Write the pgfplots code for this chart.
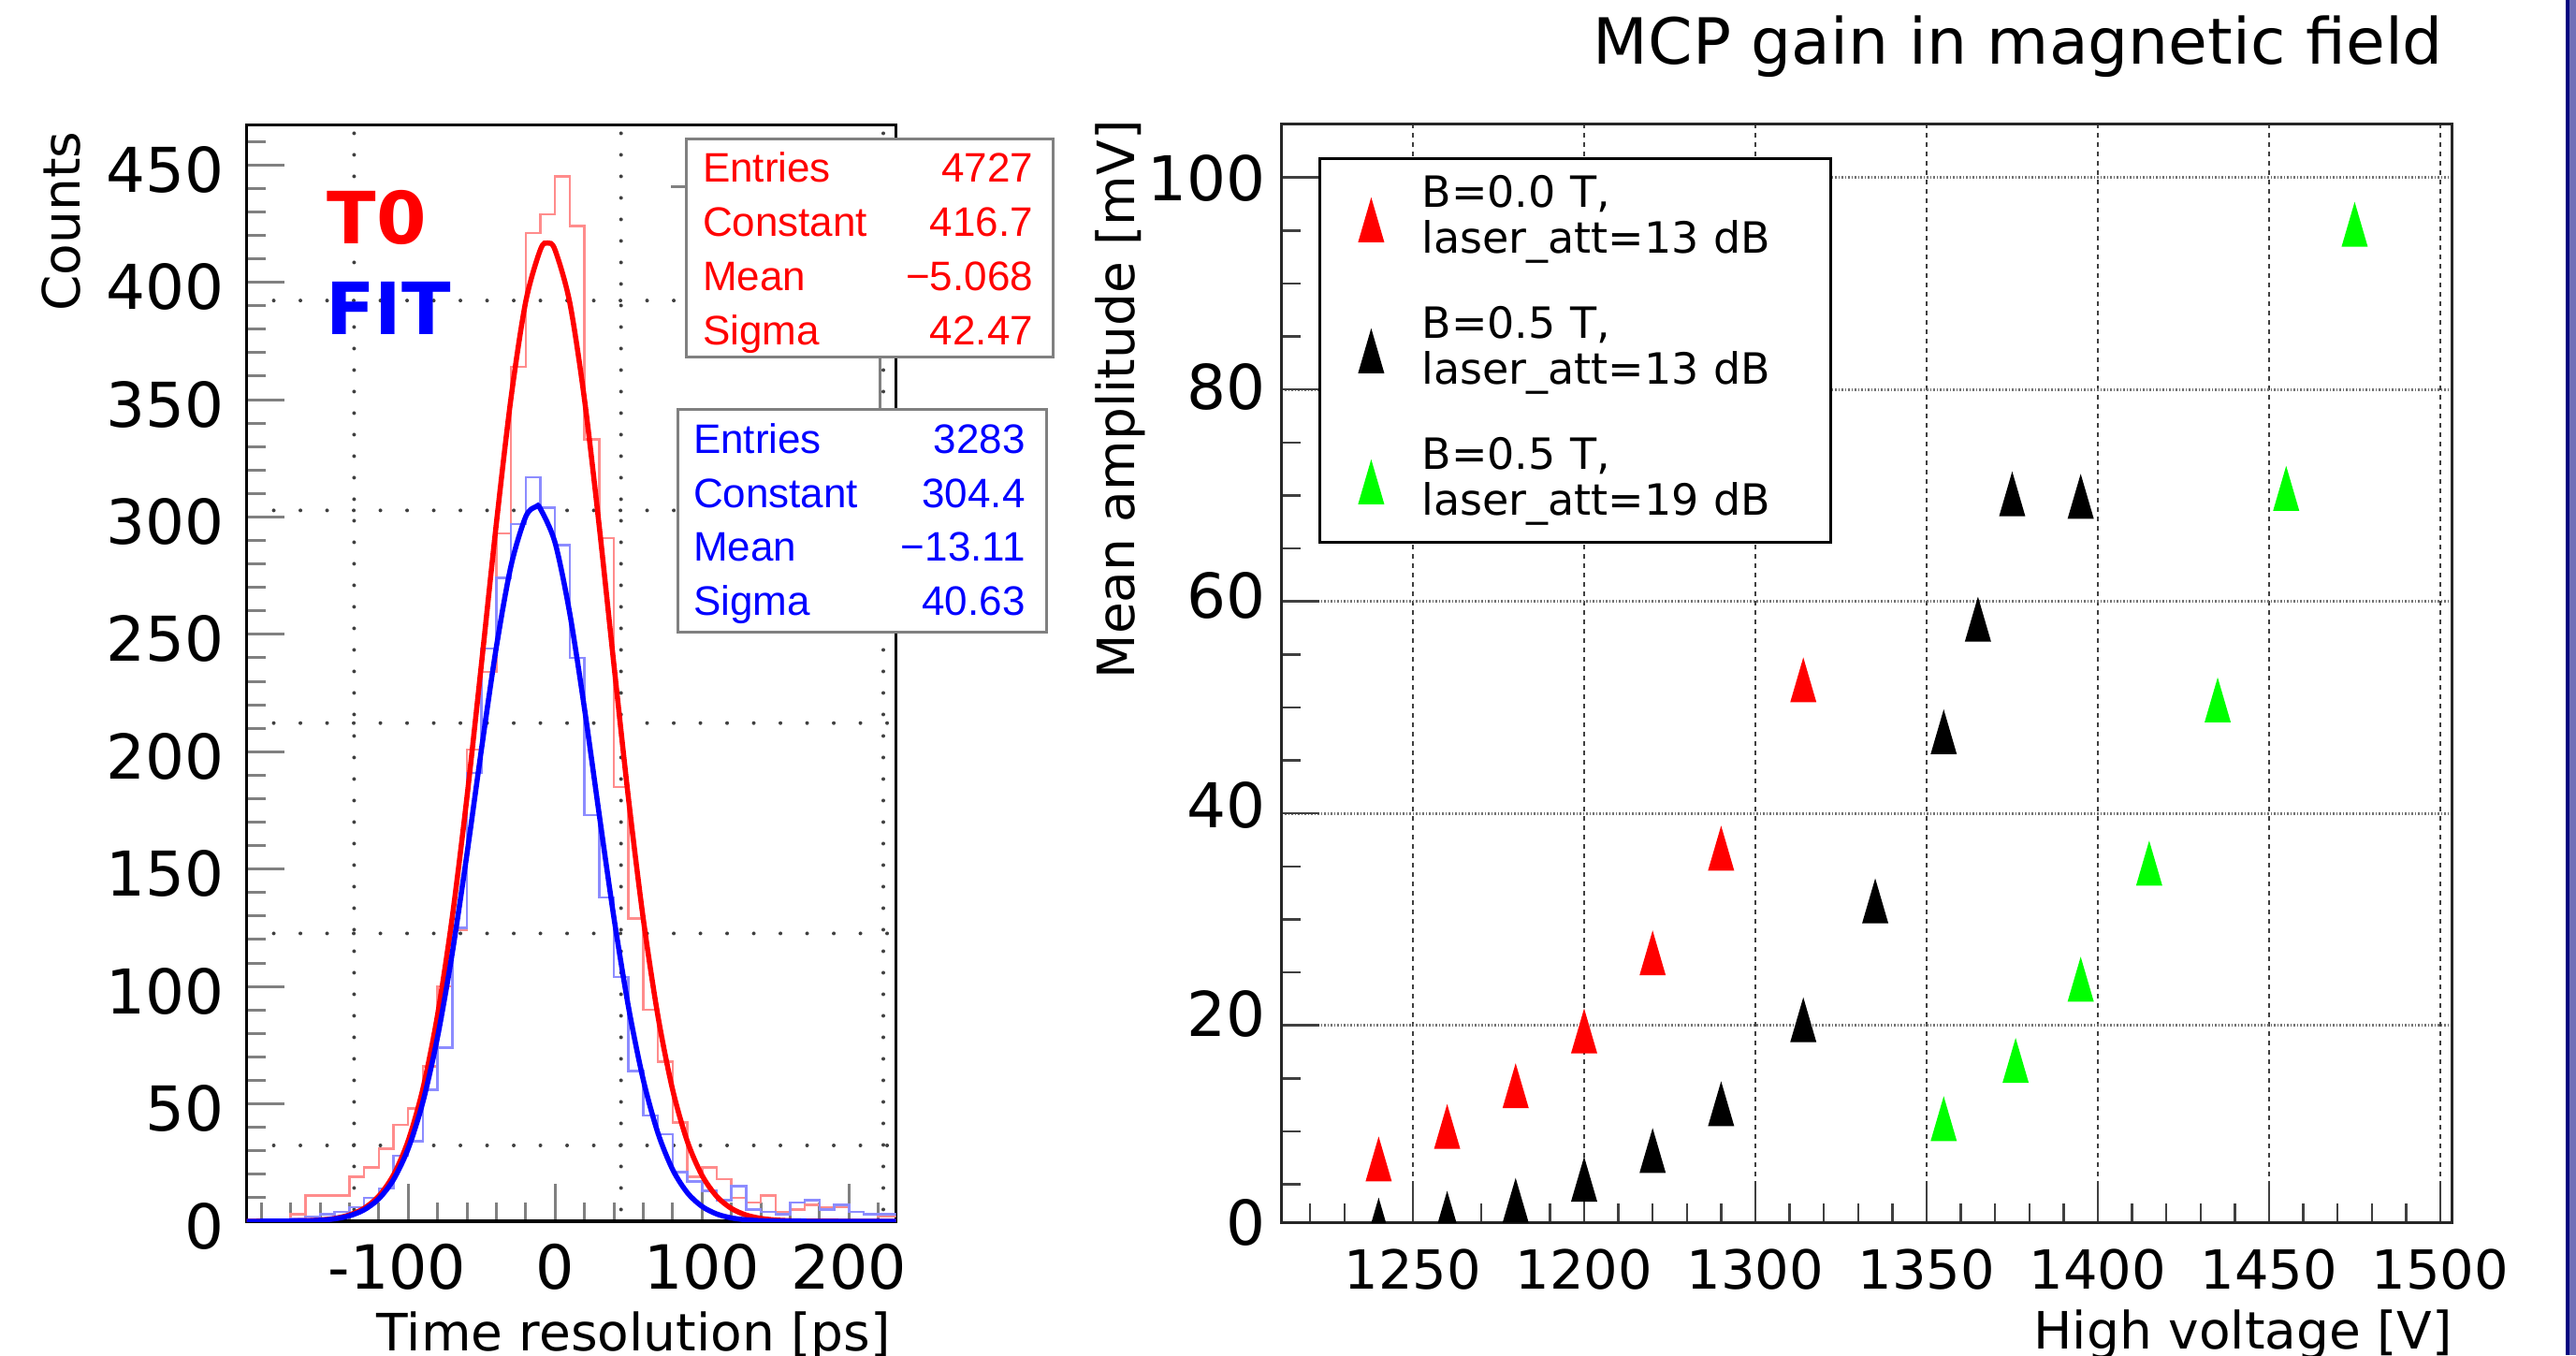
\documentclass[border=0pt]{standalone}
\usepackage{pgfplots}
\pgfplotsset{compat=1.18}
\usepackage{fontspec}
\setmainfont{DejaVu Sans}
\newfontfamily\arialf{Liberation Sans}
\definecolor{navybar}{HTML}{000080}
\definecolor{lightbar}{HTML}{7070B8}
\pgfdeclareplotmark{tallt}{%
  \pgfpathmoveto{\pgfqpoint{0pt}{4.8pt}}%
  \pgfpathlineto{\pgfqpoint{-2.8pt}{-4.8pt}}%
  \pgfpathlineto{\pgfqpoint{2.8pt}{-4.8pt}}%
  \pgfpathclose\pgfusepathqfill}
\pgfplotstableread{
x y
-210 0
-200 0
-190 0
-180 3
-170 11
-160 11
-150 11
-140 19
-130 23
-120 31
-110 41
-100 48
-90 66
-80 100
-70 124
-60 201
-50 234
-40 293
-30 364
-20 421
-10 429
0 445
10 424
20 333
30 291
40 185
50 129
60 90
70 68
80 42
90 19
100 23
110 18
120 10
130 8
140 11
150 4
160 5
170 7
180 6
190 6
200 4
210 3
220 2
232 2
}\redhist
\pgfplotstableread{
x y
-210 0
-200 0
-190 0
-180 1
-170 2
-160 3
-150 4
-140 6
-130 10
-120 14
-110 28
-100 34
-90 56
-80 74
-70 125
-60 191
-50 244
-40 274
-30 297
-20 317
-10 304
0 288
10 240
20 173
30 138
40 104
50 64
60 45
70 37
80 21
90 17
100 13
110 9
120 15
130 5
140 4
150 3
160 8
170 9
180 5
190 7
200 4
210 3
220 3
232 3
}\bluehist
\tikzset{lgrid/.style={black!75, line width=0.8pt, line cap=round, dash pattern=on 0pt off 5.7pt},
         lgridv/.style={black!75, line width=0.8pt, line cap=round, dash pattern=on 0pt off 4.6pt}}
\begin{document}
\begin{tikzpicture}[x=1pt,y=1pt]
\useasboundingbox (0,0) rectangle (550.6,289.6);
\clip (0,0) rectangle (550.6,289.6);
% ---------------- left panel ----------------
\begin{axis}[
  at={(52.7pt,28.6pt)}, anchor=south west, scale only axis,
  width=138.8pt, height=234.3pt,
  xmin=-210, xmax=232, ymin=0, ymax=467,
  axis line style={black, line width=0.7pt},
  tick pos=left, tick align=inside,
  xtick={-100,0,100,200}, xticklabels={\llap{-}100,0,100,200},
  minor xtick={-200,-180,...,220},
  ytick={0,50,...,450}, minor ytick={0,10,...,460},
  major tick length=8pt, minor tick length=4pt,
  tick style={color=gray, line width=0.6pt},
  /pgf/number format/assume math mode=true,
  yticklabel style={font=\fontsize{13.2}{14}\selectfont, inner sep=0pt, xshift=-4.6pt, yshift=-1pt},
  xticklabel style={font=\fontsize{13}{14}\selectfont, inner sep=0pt, yshift=-4.7pt},
  ylabel={Counts},
  ylabel style={at={(axis description cs:-0.2572,0.9949)}, anchor=base east, inner sep=0pt, font=\fontsize{11}{13}\selectfont},
  xlabel={Time resolution [ps]},
  xlabel style={at={(axis description cs:0.99352,-0.11780)}, anchor=base east, inner sep=0pt, font=\fontsize{11}{13}\selectfont},
]
\draw[lgrid] (axis cs:-191.5,32.3) -- (axis cs:230,32.3);
\draw[lgrid] (axis cs:-191.5,122.6) -- (axis cs:230,122.6);
\draw[lgrid] (axis cs:-191.5,212.2) -- (axis cs:230,212.2);
\draw[lgrid] (axis cs:-191.5,302.8) -- (axis cs:230,302.8);
\draw[lgrid] (axis cs:-191.5,392.2) -- (axis cs:230,392.2);
\draw[lgridv] (axis cs:-136.8,5) -- (axis cs:-136.8,465);
\draw[lgridv] (axis cs:44.9,5) -- (axis cs:44.9,465);
\draw[lgridv] (axis cs:223.4,5) -- (axis cs:223.4,465);
\addplot[const plot, red!45, line width=0.5pt] table[x=x,y=y] {\redhist};
\addplot[const plot, blue!45, line width=0.5pt] table[x=x,y=y] {\bluehist};
\addplot[smooth, red, line width=1.1pt] coordinates {
(-210,0) (-200,0.011) (-190,0.03) (-180,0.086) (-170,0.22) (-160,0.54) (-150,1.23) (-140,2.68) (-130,5.50) (-120,10.70) (-110,19.69) (-100,34.27) (-90,56.40) (-80,87.87) (-70,129.5) (-60,180.6) (-50,238.1) (-40,297.1) (-30,350.7) (-20,391.7) (-10,413.9) (-5,416.7) (0,413.7) (10,391.3) (20,350.1) (30,296.3) (40,237.3) (50,179.8) (60,128.9) (70,87.4) (80,56.05) (90,34.02) (100,19.53) (110,10.61) (120,5.45) (130,2.65) (140,1.22) (150,0.53) (160,0.22) (170,0.08) (180,0.03) (200,0) (232,0)};
\addplot[smooth, blue, line width=1.1pt] coordinates {
(-210,0) (-200,0.008) (-180,0.066) (-170,0.18) (-160,0.44) (-150,1.04) (-140,2.32) (-130,4.86) (-120,9.57) (-110,17.73) (-100,30.94) (-90,50.78) (-80,78.51) (-70,114.2) (-60,156.4) (-50,201.6) (-40,244.5) (-30,279.2) (-20,300.1) (-13,304.4) (-10,303.5) (0,289.0) (10,258.9) (20,218.4) (30,173.4) (40,129.5) (50,91.11) (60,60.30) (70,37.57) (80,22.03) (90,12.16) (100,6.32) (110,3.09) (120,1.42) (130,0.62) (140,0.25) (150,0.10) (160,0.03) (180,0) (232,0)};
\end{axis}
% labels T0 / FIT
\node[anchor=base west, inner sep=0pt, text=red, font=\bfseries\fontsize{15.4}{16}\selectfont] at (69.7,237.46) {T0};
\node[anchor=base west, inner sep=0pt, text=blue, font=\bfseries\fontsize{15.4}{16}\selectfont] at (69.4,218.1) {FIT};
% stats boxes
\draw[gray, line width=0.6pt] (188.14,213.2) -- (188.14,202.1);
\draw[gray, line width=0.6pt] (143.4,249.7) -- (146.68,249.7);
\filldraw[fill=white, draw=gray, line width=0.6pt] (146.68,213.2) rectangle (225.14,259.84);
\filldraw[fill=white, draw=gray, line width=0.6pt] (144.8,154.6) rectangle (223.6,202.1);
\begin{scope}[every node/.style={inner sep=0pt, font=\arialf\fontsize{8.8}{10}\selectfont}]
\node[anchor=base west, text=red] at (150.0,250.7) {Entries};
\node[anchor=base west, text=red] at (150.0,239.1) {Constant};
\node[anchor=base west, text=red] at (150.0,227.5) {Mean};
\node[anchor=base west, text=red] at (150.0,215.9) {Sigma};
\node[anchor=base east, text=red] at (221.0,250.7) {4727};
\node[anchor=base east, text=red] at (221.0,239.1) {416.7};
\node[anchor=base east, text=red] at (221.0,227.5) {−5.068};
\node[anchor=base east, text=red] at (221.0,215.9) {42.47};
\node[anchor=base west, text=blue] at (148.0,192.8) {Entries};
\node[anchor=base west, text=blue] at (148.0,181.2) {Constant};
\node[anchor=base west, text=blue] at (148.0,169.7) {Mean};
\node[anchor=base west, text=blue] at (148.0,158.1) {Sigma};
\node[anchor=base east, text=blue] at (219.3,192.8) {3283};
\node[anchor=base east, text=blue] at (219.3,181.2) {304.4};
\node[anchor=base east, text=blue] at (219.3,169.7) {−13.11};
\node[anchor=base east, text=blue] at (219.3,158.1) {40.63};
\end{scope}
% ---------------- right panel ----------------
\begin{axis}[
  at={(273.96pt,28.22pt)}, anchor=south west, scale only axis,
  width=250.04pt, height=234.78pt,
  xmin=1161.7, xmax=1503.3, ymin=1.35, ymax=105,
  axis line style={black!85, line width=0.6pt},
  tick pos=left, tick align=inside,
  xtick={1200,1250,...,1500}, xticklabels={1250,1200,1300,1350,1400,1450,1500},
  minor xtick={1170,1180,...,1500},
  ytick={20,40,...,100}, yticklabels={},
  minor ytick={5,10,...,100},
  extra y ticks={1.42,21.12,40.81,60.57,80.27,99.89},
  extra y tick labels={0,20,40,60,80,100},
  extra y tick style={grid=none, major tick length=0pt,
     yticklabel style={font=\fontsize{13.2}{14}\selectfont, inner sep=0pt, xshift=-3.2pt}},
  major tick length=8pt, minor tick length=4.1pt,
  tick style={color=black!75, line width=0.5pt},
  xmajorgrids, ymajorgrids,
  x grid style={black!75, line width=0.3pt, dash pattern=on 1pt off 1pt},
  y grid style={black!55, line width=0.6pt, dash pattern=on 0.3pt off 0.4pt},
  xticklabel style={font=\fontsize{11.5}{13}\selectfont, inner sep=0pt, yshift=-5.4pt},
  clip marker paths=true,
  title={MCP gain in magnetic field},
  title style={at={(axis description cs:0.99360,1.02896)}, anchor=base east, inner sep=0pt, font=\fontsize{13.6}{15}\selectfont},
  ylabel={Mean amplitude [mV]},
  ylabel style={at={(axis description cs:-0.12622,1.00468)}, anchor=base east, inner sep=0pt, font=\fontsize{11}{13}\selectfont},
  xlabel={High voltage [V]},
  xlabel style={at={(axis description cs:1.00160,-0.11424)}, anchor=base east, inner sep=0pt, font=\fontsize{11}{13}\selectfont},
  legend cell align=left,
  legend image code/.code={%
     \pgfpathmoveto{\pgfqpoint{0pt}{0pt}}\pgfpathlineto{\pgfqpoint{19.36pt}{0pt}}\pgfusepath{discard}%
     \draw[#1] plot coordinates {(8.54pt,0pt)};},
  legend style={at={(axis description cs:0,1)}, anchor=north west, xshift=7.78pt, yshift=-7.06pt,
     draw=black, line width=0.6pt, fill=white, inner xsep=2.5pt, inner ysep=3.6pt, row sep=9.2pt,
     font=\fontsize{9.2}{9.8}\selectfont,
     nodes={inner xsep=0pt, inner ysep=0pt, text depth=, text width=84.9pt, align=left}},
]
\addplot[only marks, mark=tallt, color=red] coordinates {
(1190,7.40) (1210,10.46) (1230,14.31) (1250,19.48) (1270,26.84) (1290,36.72) (1314,52.6)};
\addlegendentry{B=0.0 T,\\laser\_att=13 dB}
\addplot[only marks, mark=tallt, color=black] coordinates {
(1190,1.63) (1210,2.27) (1230,3.49) (1250,5.49) (1270,8.20) (1290,12.61) (1314,20.53) (1335,31.75) (1355,47.70) (1365,58.33) (1375,70.15) (1395,69.92)};
\addlegendentry{B=0.5 T,\\laser\_att=13 dB}
\addplot[only marks, mark=tallt, color=green] coordinates {
(1355,11.20) (1376,16.70) (1395,24.36) (1415,35.31) (1435,50.71) (1455,70.67) (1475,95.58)};
\addlegendentry{B=0.5 T,\\laser\_att=19 dB}
\end{axis}
% right edge bars
\fill[navybar] (548.4,0) rectangle (549.1,289.6);
\fill[lightbar] (549.1,0) rectangle (550.6,289.6);
\end{tikzpicture}
\end{document}
